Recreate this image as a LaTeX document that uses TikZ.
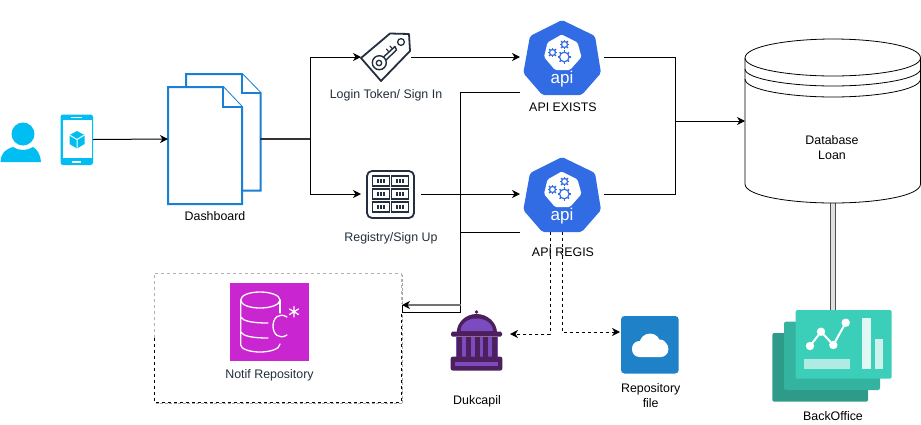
\documentclass[tikz,border=0pt]{standalone}
\usepackage{fontspec}
\setmainfont{Liberation Sans}
\usetikzlibrary{arrows.meta,calc}
\definecolor{skyb}{HTML}{00BEF2}
\definecolor{docb}{HTML}{1A80D6}
\definecolor{awsd}{HTML}{232F3E}
\definecolor{k8s}{HTML}{326CE5}
\definecolor{magen}{HTML}{C925D1}
\definecolor{dukd}{HTML}{4D1F5C}
\definecolor{dukl}{HTML}{7B4BC0}
\definecolor{cloudb}{HTML}{1F82C9}
\definecolor{bo1}{HTML}{3BCFB9}
\definecolor{bo2}{HTML}{35B3A1}
\definecolor{bo3}{HTML}{2E9A8A}
\tikzset{
 anchorbox/.style={inner sep=0pt,outer sep=0pt},
 lab/.style={font=\fontsize{12.4}{15}\selectfont,align=center,inner sep=0pt,text=black},
 awslab/.style={lab,text=awsd},
 conn/.style={line width=1pt,draw=black},
 tip/.style={-{Stealth[length=8pt,width=8pt,inset=2.5pt,color=black]}},
 dconn/.style={conn,dashed,dash pattern=on 3pt off 3pt,tip},
 page/.style={draw=docb,fill=white,line width=2pt,line join=miter},
 icon/.style={draw=awsd,line width=1.8pt,line join=round,line cap=round},
}
\newcommand{\boxnode}[5]{\node[anchorbox,minimum width=#4 pt,minimum height=#5 pt] (#1) at (#2,#3) {};}
\newcommand{\gearicon}[3]{%
 \draw[k8s,line width=1.2pt] (#1,#2) circle[radius=#3];
 \foreach \a in {0,45,...,315}{\draw[k8s,line width=1.4pt] ($(#1,#2)+(\a:#3)$) -- ($(#1,#2)+(\a:#3+1.8)$);}
}
\newcommand{\apishape}[1]{%
 \begin{scope}[yshift=-#1 pt]
 \fill[k8s,rounded corners=2pt] (562,20)--(595,36)--(601,73)--(581.7,95)--(542.3,95)--(523.3,73)--(530,36)--cycle;
 \fill[white,rounded corners=1.5pt] (561.7,34.5)--(577.5,42.5)--(581.5,57)--(570,70)--(555,70)--(544,57)--(547.5,42.5)--cycle;
 \gearicon{564.3}{57}{4.8}
 \gearicon{552.5}{52.5}{3}
 \gearicon{564.5}{44.5}{3}
 \node[anchorbox,text=white,font=\fontsize{17}{17}\selectfont] at (562,79) {api};
 \end{scope}
}
\begin{document}
\begin{tikzpicture}[x=1pt,y=-1pt]
\useasboundingbox (0,0) rectangle (921,424);
\fill[white] (0,0) rectangle (921,424);
% anchor nodes
\boxnode{phone}{76.5}{139.5}{33}{51}
\boxnode{docs}{214}{139}{92}{130}
\boxnode{tag}{386}{57}{50}{48}
\boxnode{reg}{391}{194}{60}{48}
\boxnode{apione}{562}{57}{84}{74}
\boxnode{apitwo}{562}{194}{84}{74}
\boxnode{db}{833}{121}{176}{164}
\boxnode{bo}{832}{356}{120}{92}
\boxnode{notif}{277.5}{337.5}{247}{129}
\boxnode{duk}{480.5}{334}{59}{1}
\boxnode{repo}{650}{332}{60}{1}
\coordinate (junc) at (310,139);
\coordinate (merge) at (675,121);
\coordinate (busx) at (460.7,92);
\coordinate (outone) at (520,92);
\coordinate (outtwo) at (520,232);
\coordinate (notifin) at (402,305);
\coordinate (dleft) at (550.3,232);
\coordinate (dright) at (562,232);
% person
\fill[skyb] (0.5,162) .. controls (1,153) and (5,149.5) .. (13,147) .. controls (19,151) and (27,151) .. (33,147) .. controls (37,149.5) and (40,153) .. (41,162) -- cycle;
\fill[skyb] (23,134) circle[radius=11.5];
% phone
\fill[skyb,rounded corners=2.5pt] (60.5,114.5) rectangle (93,165);
\fill[white] (62.5,119.5) rectangle (91.5,158);
\fill[white] (71,117) rectangle (82,118.3);
\fill[white] (72,160.5) rectangle (81,162.5);
\fill[skyb] (77,131)--(84.5,135)--(84.5,144)--(77,148.5)--(69.5,144)--(69.5,135)--cycle;
\draw[white,line width=1pt] (69.5,135)--(77,139.5)--(84.5,135) (77,139.5)--(77,148.5);
% documents
\draw[page] (186,74)--(242,74)--(260.5,93)--(260.5,190.5)--(186,190.5)--cycle;
\draw[page] (242,74)--(242,93)--(260.5,93);
\draw[page] (168,87)--(223,87)--(242,107)--(242,204)--(168,204)--cycle;
\draw[page] (223,87)--(223,107)--(242,107);
% notif box
\draw[draw=black!35,line width=1.6pt,dash pattern=on 3pt off 1.5pt] (155.5,403.5)--(402.5,403.5)--(402.5,274.5);
\draw[draw=black!30,line width=.9pt,dash pattern=on 3pt off 3pt] (154,338)--(154,273)--(401,273)--(401,304);
\draw[draw=black,line width=.9pt,dash pattern=on 3pt off 3pt] (154,338)--(154,402)--(401,402)--(401,312);
% connectors
\draw[conn,tip] (phone.east) -- (docs.west);
\draw[line width=1.6pt,draw=black!80] (docs.east) -- (junc);
\draw[conn,tip] (junc) |- (tag.west);
\draw[conn,tip] (junc) |- (reg.west);
\draw[conn,tip] (tag.east) -- (apione.west);
\draw[conn,tip] (reg.east) -- (apitwo.west);
\draw[conn] (apione.east) -| (merge);
\draw[conn] (apitwo.east) -| (merge);
\draw[conn,tip] (merge) -- (db.west);
\draw[conn] (outtwo) -| (busx |- notifin);
\draw[conn] (outone) -- (busx) -- ++(0,220.3) -- (402,312.3) -- (notifin);
\draw[line width=1.4pt,draw=black!55,tip] (busx |- notifin) -- (notifin);
\draw[dconn] (dleft) |- (duk.east);
\draw[dconn] (dright) |- (repo.west);
\draw[line width=5.6pt,draw=black!70] (db.south) -- (db.south |- bo.north);
\draw[line width=3.6pt,draw=black!12] (db.south) -- (db.south |- bo.north);
% tag icon
\draw[icon,fill=white] (361,58)--(390,33.5)--(409,34)--(410,51)--(381,81)--cycle;
\draw[icon,line width=1.3pt] (401,42) circle[radius=3.4];
\draw[icon,line width=1.4pt] (379.3,62.7) circle[radius=7];
\draw[icon,line width=1.3pt] (379,63) circle[radius=2.7];
\draw[icon,line width=1.4pt] (383.5,57)--(395,46.5)--(396.5,50)--(386,60);
\draw[icon,line width=1.1pt] (389,52)--(386.5,49) (392.5,49)--(390,46);
% registry icon
\draw[icon,fill=white,rounded corners=5pt] (367,171) rectangle (414,218);
\foreach \cx in {372.7,391.7}{\foreach \cy in {176,189,202}{
 \draw[draw=awsd,line width=1.1pt] (\cx,\cy) rectangle ++(16.5,10);
 \foreach \d in {4,7.2,10.4}{\fill[awsd] (\cx+\d,\cy+3) rectangle ++(2,4);}
}}
% apis
\apishape{0}
\apishape{137}
% database
\draw[line width=.8pt,fill=white] (745,58) .. controls (745,46) and (790,39) .. (833,39) .. controls (876,39) and (920.5,46) .. (920.5,58) -- (920.5,184) .. controls (920.5,196) and (876,203) .. (833,203) .. controls (790,203) and (745,196) .. (745,184) -- cycle;
\draw[line width=.8pt] (745,58) .. controls (745,69) and (790,76) .. (833,76) .. controls (876,76) and (920.5,69) .. (920.5,58);
\draw[line width=.8pt] (745,69) .. controls (745,79) and (790,86) .. (833,86) .. controls (876,86) and (920.5,79) .. (920.5,69);
\draw[line width=.8pt] (745,79) .. controls (745,90) and (790,97) .. (833,97) .. controls (876,97) and (920.5,90) .. (920.5,79);
\node[lab] (dblab) at (832,147.5) {Database\\Loan};
% backoffice
\fill[bo3,rounded corners=2pt] (772.3,333) rectangle (868,401.7);
\fill[bo2,rounded corners=2pt] (784,321.7) rectangle (880,390);
\fill[bo1,rounded corners=2pt] (795.7,310) rectangle (891.7,378.7);
\draw[white,line width=2pt] (810,346)--(821,331.7)--(833.3,345)--(845.7,322.7);
\foreach \p in {(810,346),(821,331.7),(833.3,345),(845.7,322.7)}{\fill[white] \p circle[radius=4.2];}
\fill[white,opacity=.6] (804,358.7) rectangle (850,368.7);
\fill[white,opacity=.85] (862.3,318.3) rectangle (870.7,368.7);
\fill[white,opacity=.75] (874.7,339) rectangle (883,368.7);
% notif icon
\fill[magen] (230.3,283) rectangle (308.5,361);
\begin{scope}[draw=white,line width=1.3pt,line cap=round]
\draw (240.7,300) .. controls (240.7,295) and (250,292) .. (260,292) .. controls (270,292) and (280,295) .. (280,300) .. controls (280,305) and (270,308) .. (260,308) .. controls (250,308) and (240.7,305) .. (240.7,300);
\draw (240.7,300) -- (240.7,345) .. controls (240.7,349) and (250,352) .. (260,352) .. controls (270,352) and (280,349) .. (280,344);
\draw (280,300) -- (280,313);
\draw (240.7,317) .. controls (243,321) and (252,323) .. (268,323);
\draw (240.7,332) .. controls (243,336) and (252,338) .. (268,338);
\draw (287,317) .. controls (279,312) and (273,318) .. (273,326) .. controls (273,334) and (279,340) .. (287,335);
\draw (294,306.5)--(294,317) (289.5,309)--(298.5,314.5) (298.5,309)--(289.5,314.5);
\end{scope}
% dukcapil
\fill[dukd] (476.5,312) circle[radius=1.8];
\fill[dukd] (456.7,333) .. controls (456.7,322) and (466,314) .. (476.5,314) .. controls (487,314) and (497,322) .. (497,333) -- cycle;
\fill[dukl] (460.5,331) .. controls (461,323) and (468,318.5) .. (476.5,318.5) .. controls (485,318.5) and (492.5,323) .. (493,331) -- cycle;
\fill[dukd,rounded corners=1.5pt] (451,331.5) rectangle (502,336.5);
\fill[dukl] (456,336.5) rectangle (498,357);
\foreach \x in {457,466,474.5,483,492}{\fill[dukd] (\x,336.5) rectangle ++(5,20.5);}
\fill[dukd,rounded corners=2pt] (450.7,356.7) rectangle (502.3,370.5);
\fill[dukl] (455,361.5) rectangle (498,366);
% repo
\fill[cloudb,rounded corners=3.5pt] (621,316) rectangle (678.7,373.5);
\fill[white,rounded corners=7.5pt] (632,341) rectangle (668.3,357);
\fill[white] (650,344) circle[radius=10.5];
\fill[white] (660,346) circle[radius=6.5];
% labels
\node[lab] (dashlab) at (215,216.5) {Dashboard};
\node[awslab] (taglab) at (386,95) {Login Token/ Sign In};
\node[awslab] (reglab) at (391,238) {Registry/Sign Up};
\node[lab] (apionelab) at (563,107.5) {API EXISTS};
\node[lab] (apitwolab) at (563,252) {API REGIS};
\node[awslab] (notiflab) at (269.5,375) {Notif Repository};
\node[lab] (duklab) at (477,401) {Dukcapil};
\node[lab] (repolab) at (650.7,395.5) {Repository\\file};
\node[lab] (bolab) at (833,416) {BackOffice};
\end{tikzpicture}
\end{document}
